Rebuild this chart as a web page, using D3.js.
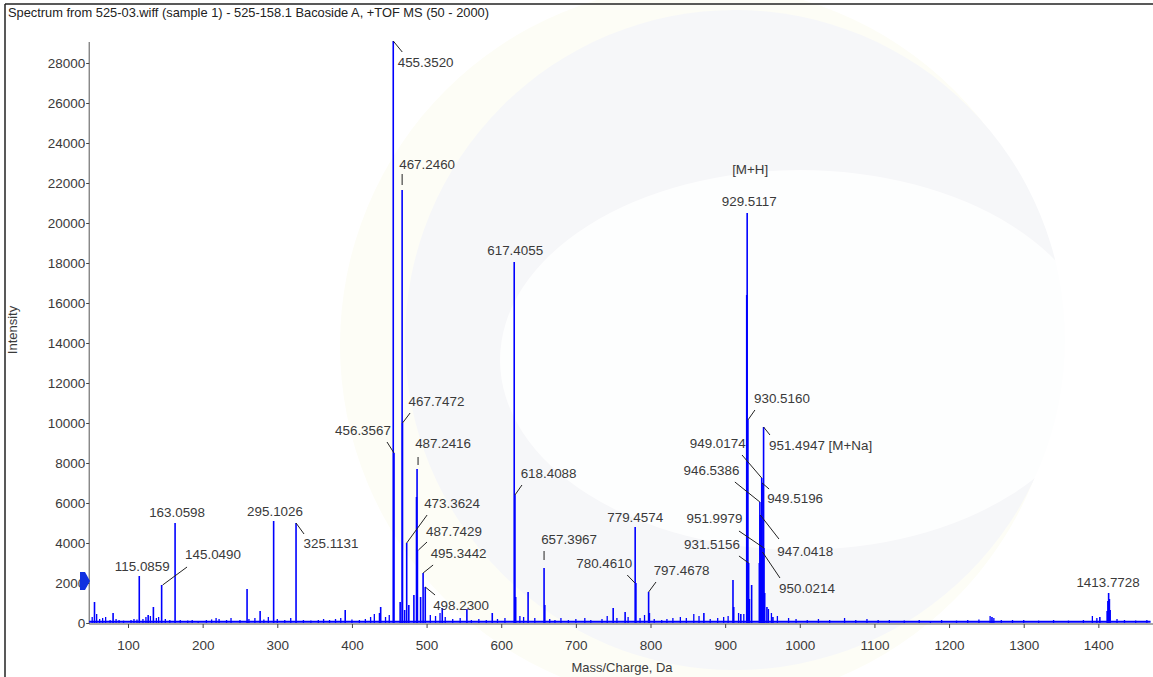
<!DOCTYPE html>
<html><head><meta charset="utf-8">
<script src="https://cdn.jsdelivr.net/npm/d3@7"></script>
<style>
html,body{margin:0;padding:0;background:#fff;}
svg{display:block;}
text{font-family:"Liberation Sans",Arial,sans-serif;fill:#3a3a3a;}
</style></head><body>
<svg id="c" width="1153" height="677"></svg>
<script>
// ---------- DATA ----------
const titleText = "Spectrum from 525-03.wiff (sample 1) - 525-158.1 Bacoside A, +TOF MS (50 - 2000)";
const xLabel = "Mass/Charge, Da";
const yLabel = "Intensity";
const xTicks = [100,200,300,400,500,600,700,800,900,1000,1100,1200,1300,1400];
const yTicks = [0,2000,4000,6000,8000,10000,12000,14000,16000,18000,20000,22000,24000,26000,28000];

// spectrum peaks (m/z, intensity)
const peakMz  = [55.1,80.0,115.0859,127.0,134.0,145.049,163.0598,259.5,277.0,295.1026,325.1131,391.0,437.0,438.5,
  455.352,456.3567,464.6,467.246,467.7472,470.6,473.3624,476.2,483.0,486.5,487.2416,487.7429,492.0,495.3442,498.23,
  521.0,554.0,588.0,617.4055,618.4088,619.4,636.0,657.3967,658.4,750.0,766.0,779.4574,780.461,797.4678,798.5,871.5,
  910.5,911.5,921.0,928.9,929.5117,930.516,931.5156,932.5,935.5,945.8,946.5386,947.0418,949.0174,949.5196,950.0214,
  951.4947,951.9979,953.0,956.0,964.0,1257.5,1402.0,1411.8,1412.8,1413.7728,1414.8,1415.8];
const peakInt = [1050,500,2350,400,800,1900,5000,1700,600,5100,5000,650,500,800,
  29100,8500,1050,21650,10000,650,4000,900,1400,6300,7700,3650,1300,2500,1800,
  750,700,500,18050,6400,1300,1550,2750,900,750,550,4800,2000,1550,500,500,
  2150,800,450,16400,20500,10150,3000,1200,1900,3000,6050,5400,7250,7000,3550,
  9800,3750,1500,800,300,300,300,600,1100,1500,1200,650];

// low-level baseline noise peaks (m/z, intensity)
const noiseMz  = [52,58,62,66,70,76,84,88,94,104,108,112,120,124,130,138,141,150,156,170,180,186,194,205,212,218,222,232,238,
  250,262,270,282,288,300,310,318,335,345,355,362,370,378,385,400,410,418,425,430,445,450,505,512,518,525,535,545,560,570,
  580,595,605,625,630,645,665,672,680,690,700,712,720,735,742,755,770,786,792,805,815,822,830,840,848,858,865,880,890,898,
  904,918,925,958,962,970,985,995,1010,1025,1040,1060,1075,1090,1105,1120,1140,1160,1175,1190,1210,1225,1240,1255,1260,
  1270,1285,1300,1320,1340,1360,1380,1392,1398,1425,1435,1450,1465];
const noiseInt = [300,450,200,250,300,150,200,150,120,150,200,180,200,300,350,250,300,200,150,150,120,150,100,150,180,250,200,150,250,
  150,200,250,180,300,200,150,250,150,120,150,200,150,200,250,180,150,200,300,450,300,400,400,350,500,300,200,250,150,200,
  150,200,250,350,300,250,200,150,250,150,200,250,150,200,350,250,300,250,400,200,150,200,250,300,250,450,350,200,250,300,
  350,500,450,700,500,350,250,200,150,200,150,250,150,200,150,150,120,150,100,150,120,150,180,350,250,
  150,150,150,120,150,120,150,350,250,200,150,120,150];
const baselineLevel = 60;
const markerLevel = 2100;   // blue arrow marker on the intensity axis

// annotated peaks
const labelMz   = [115.0859,145.049,163.0598,295.1026,325.1131,455.352,456.3567,467.246,467.7472,473.3624,487.2416,487.7429,
  495.3442,498.23,617.4055,618.4088,657.3967,779.4574,780.461,797.4678,929.5117,930.516,931.5156,946.5386,947.0418,
  949.0174,949.5196,950.0214,951.4947,951.9979,1413.7728];
const labelSuffix = {951.4947:" [M+Na]"};
const labelAbove  = {929.5117:"[M+H]"};

// ---------- LAYOUT (label offsets relative to peak top, px) ----------
const labelLayout = {
  115.0859:{t:[3,-10]},
  145.049:{t:[51.4,-31],l:[1,0,25.4,-18]},
  163.0598:{t:[2,-11]},
  295.1026:{t:[1.4,-10]},
  325.1131:{t:[35,20],l:[0,0,8,11]},
  455.352:{t:[32.4,21],l:[0,0,9,11]},
  456.3567:{t:[-31,-23],l:[0,0,-7,-11]},
  467.246:{t:[25,-26],l:[0,-5,0,-16]},
  467.7472:{t:[34,-22],l:[0,0,7.6,-10]},
  473.3624:{t:[45.4,-40],l:[0,0,20.4,-28]},
  487.2416:{t:[26,-26],l:[1,-4,1,-12]},
  487.7429:{t:[36.6,-19],l:[1,0,9.6,-8]},
  495.3442:{t:[35.5,-20],l:[0,0,10,-8]},
  498.23:{t:[35.8,18],l:[0,0,9.8,8]},
  617.4055:{t:[1,-12]},
  618.4088:{t:[33.6,-22],l:[0,0,7,-10]},
  657.3967:{t:[25,-29],l:[0,-8,0,-17]},
  779.4574:{t:[0,-10]},
  780.461:{t:[-31.7,-20],l:[-1,0,-8.7,-8]},
  797.4678:{t:[33,-22],l:[0,0,7.4,-10]},
  929.5117:{t:[2,-12],a:[3,-44]},
  930.516:{t:[34,-22],l:[0,0,7,-10]},
  931.5156:{t:[-36.7,-19],l:[0,0,-9.7,-7]},
  946.5386:{t:[-48.4,-32],l:[0,0,-25,-20]},
  947.0418:{t:[45,36],l:[0,0,18.7,24]},
  949.0174:{t:[-44,-35],l:[0,0,-19.7,-23]},
  949.5196:{t:[33,15],l:[0,0,7,6]},
  950.0214:{t:[44.5,36],l:[0,0,17.5,26]},
  951.4947:{t:[57,18],l:[0,0,6.4,8]},
  951.9979:{t:[-49.5,-30],l:[0,0,-25,-17]},
  1413.7728:{t:[-0.6,-11]}
};

// ---------- DRAW ----------
const svg = d3.select("#c");
const W = 1153, H = 677;
const x = d3.scaleLinear().domain([48,1470]).range([89.2,1150.6]);
const y = d3.scaleLinear().domain([0,29050]).range([623,42]);

// watermark (very faint)
const wm = svg.append("g");
wm.append("circle").attr("cx",700).attr("cy",345).attr("r",360).attr("fill","#fdfdf6");
wm.append("circle").attr("cx",735).attr("cy",340).attr("r",330).attr("fill","#f6f7f9");
wm.append("ellipse").attr("cx",800).attr("cy",360).attr("rx",300).attr("ry",190).attr("fill","#ffffff").attr("opacity",0.8);

// frame
svg.append("line").attr("x1",5).attr("x2",5).attr("y1",4).attr("y2",H).attr("stroke","#222").attr("stroke-width",1.5);
svg.append("line").attr("x1",5).attr("x2",W).attr("y1",4).attr("y2",4).attr("stroke","#222").attr("stroke-width",1.5);

svg.append("text").attr("x",8).attr("y",17).attr("font-size",13)
  .attr("textLength",481).attr("lengthAdjust","spacingAndGlyphs").style("fill","#222").text(titleText);

// axes
const gx = svg.append("g").attr("transform",`translate(0,${y(0)+1})`)
  .call(d3.axisBottom(x).tickValues(xTicks).tickSize(4).tickPadding(12).tickFormat(d3.format("d")));
const gy = svg.append("g").attr("transform",`translate(${x.range()[0]},0)`)
  .call(d3.axisLeft(y).tickValues(yTicks).tickSize(3).tickPadding(1).tickFormat(d3.format("d")));
[gx,gy].forEach(g=>{
  g.select(".domain").attr("stroke","#555");
  g.selectAll(".tick line").attr("stroke","#444");
  g.selectAll(".tick text").attr("font-size",13.5).attr("font-family","Liberation Sans, Arial, sans-serif").style("fill","#3a3a3a");
});
gy.select(".domain").attr("d",`M0,${y.range()[1]}V${y(0)+1}`);
gx.select(".domain").attr("d",`M${x.range()[0]},0H${W}`);

svg.append("text").attr("x",622).attr("y",672).attr("text-anchor","middle").attr("font-size",13).text(xLabel);
svg.append("text").attr("transform",`translate(17,330) rotate(-90)`).attr("text-anchor","middle").attr("font-size",13).text(yLabel);

// spectrum
const plot = svg.append("g");
plot.append("line").attr("x1",x.range()[0]).attr("x2",x.range()[1]).attr("y1",y(baselineLevel)).attr("y2",y(baselineLevel))
  .attr("stroke","#0000ff").attr("stroke-width",2);
const noise = d3.zip(noiseMz,noiseInt);
plot.selectAll("line.n").data(noise).join("line").attr("class","n")
  .attr("x1",d=>x(d[0])).attr("x2",d=>x(d[0])).attr("y1",y(0)).attr("y2",d=>y(d[1]))
  .attr("stroke","#0000ff").attr("stroke-width",1.3);
const peaks = d3.zip(peakMz,peakInt);
plot.selectAll("line.p").data(peaks).join("line").attr("class","p")
  .attr("x1",d=>x(d[0])).attr("x2",d=>x(d[0])).attr("y1",y(0)).attr("y2",d=>y(d[1]))
  .attr("stroke","#0000ff").attr("stroke-width",1.6);

// marker arrow
const my = y(markerLevel);
svg.append("path").attr("d",`M80,${my-9}L85,${my-9}L90,${my}L85,${my+9}L80,${my+9}Z`).attr("fill","#1030e0");

// labels
const lab = svg.append("g");
const intOf = m => peakInt[peakMz.indexOf(m)];
labelMz.forEach(m=>{
  const L = labelLayout[m];
  const px = x(m), py = y(intOf(m));
  if (L.l) lab.append("line").attr("x1",px+L.l[0]).attr("y1",py+L.l[1]).attr("x2",px+L.l[2]).attr("y2",py+L.l[3])
     .attr("stroke","#222").attr("stroke-width",1);
  lab.append("text").attr("x",px+L.t[0]).attr("y",py+L.t[1]).attr("dy","0.36em").attr("text-anchor","middle")
     .attr("font-size",13.4).text(m.toFixed(4)+(labelSuffix[m]||""));
  if (L.a) lab.append("text").attr("x",px+L.a[0]).attr("y",py+L.a[1]).attr("dy","0.36em").attr("text-anchor","middle")
     .attr("font-size",13.4).text(labelAbove[m]);
});
</script></body></html>
